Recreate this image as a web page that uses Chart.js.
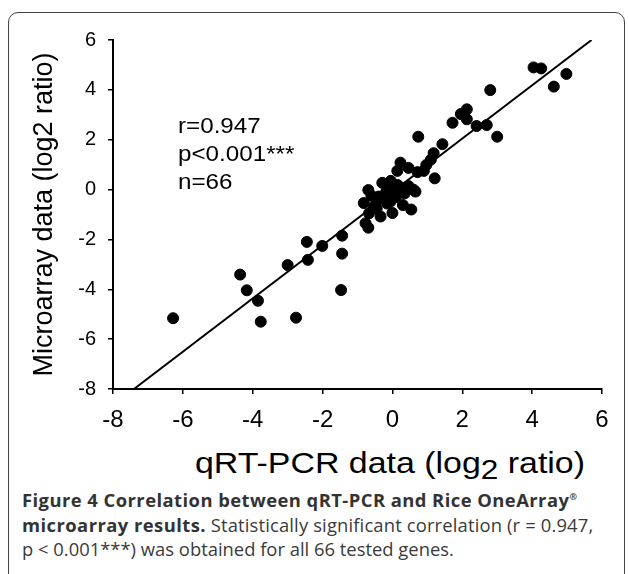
<!DOCTYPE html>
<html>
<head>
<meta charset="utf-8">
<script src="https://cdn.jsdelivr.net/npm/chart.js@4.4.1/dist/chart.umd.min.js"></script>
<style>
  body { margin: 0; background: #fff; width: 628px; height: 574px; overflow: hidden; position: relative; }
  #frame { position: absolute; left: 8px; top: 12px; width: 617px; height: 600px;
           border: 1.5px solid #444; border-radius: 10px; box-sizing: border-box; }
  #chart { position: absolute; left: 0; top: 0; }
  .note { position: absolute; left: 178px; font: 22px "Liberation Sans", Arial, sans-serif; color: #000;
          line-height: 28px; transform: scaleX(1.1); transform-origin: left top; }
  #xtitle { position: absolute; left: 0; width: 780px; top: 446px; text-align: center;
            font: 30px "Liberation Sans", Arial, sans-serif; color: #000; white-space: nowrap;
            transform: scaleX(1.13); transform-origin: 390px 0; }
  #xtitle span { font-size: 28px; position: relative; top: 6px; }
  #caption { position: absolute; left: 22px; top: 485px; font-family: "Open Sans", sans-serif;
             font-size: 18.4px; line-height: 24.5px; color: #3a3a3a; white-space: nowrap; }
  #caption b { font-weight: 700; color: #333; letter-spacing: 0.45px; }
  #caption .reg { letter-spacing: 0.15px; }
  sup { font-size: 9px; }
</style>
</head>
<body>
<div id="frame"></div>
<canvas id="chart" width="628" height="440"></canvas>
<div class="note" style="top:112px">r=0.947<br>p&lt;0.001***<br>n=66</div>
<div id="xtitle">qRT-PCR data (log<span>2</span> ratio)</div>
<div id="caption">
  <b>Figure 4 Correlation between qRT-PCR and Rice OneArray<sup>®</sup></b><br>
  <b>microarray results.</b> <span class="reg">Statistically significant correlation (r = 0.947,</span><br>
  p &lt; 0.001***) was obtained for all 66 tested genes.
</div>
<script>
// qRT-PCR log2 ratio (x) vs microarray log2 ratio (y), 66 genes
const qrtpcr = [-6.28, -4.36, -4.17, -3.85, -3.77, -3.00, -2.76, -2.45, -2.42, -2.01,
  -1.44, -1.44, -1.47, -0.82, -0.77, -0.69, -0.69, -0.67, -0.53, -0.43,
  -0.34, 0.00, -0.29, -0.05, -0.18, 0.19, -0.05, 0.30, 0.54, 0.46,
  0.66, 0.15, 0.14, 0.23, 0.46, 0.72, 0.90, 0.97, 1.10, 1.18,
  1.21, 1.43, 0.74, 1.72, 1.96, 2.13, 2.13, 2.41, 2.70, 3.00,
  2.80, 4.04, 4.26, 4.62, 4.98, -0.40, -0.10, 0.40, -0.15, -0.60,
  0.05, -0.25, 0.35, 0.10, -0.45, 0.60];
const microarray = [-5.16, -3.41, -4.04, -4.46, -5.30, -3.03, -5.14, -2.10, -2.82, -2.26,
  -1.85, -2.57, -4.03, -0.54, -1.35, -1.53, -0.02, -0.95, -0.69, -0.42,
  -1.08, -0.94, 0.27, 0.35, -0.10, -0.12, -0.47, -0.62, -0.80, 0.14,
  -0.08, 0.18, 0.75, 1.08, 0.87, 0.70, 0.75, 0.99, 1.20, 1.46,
  0.45, 1.82, 2.12, 2.68, 3.03, 3.22, 2.82, 2.55, 2.59, 2.12,
  3.99, 4.90, 4.86, 4.13, 4.64, -0.28, 0.00, 0.10, -0.56, -0.25,
  0.20, -0.30, -0.15, -0.30, -0.75, 0.00];
// regression line end points
const fitX = [-7.4, 5.7];
const fitY = [-8, 6];
const ticks = [-8, -6, -4, -2, 0, 2, 4, 6];

const tickFont = "'Liberation Sans', Arial, sans-serif";

new Chart(document.getElementById('chart').getContext('2d'), {
  type: 'scatter',
  data: {
    datasets: [{
      data: qrtpcr.map((x, i) => ({ x: x, y: microarray[i] })),
      backgroundColor: '#000',
      borderColor: '#000',
      pointRadius: 5.5,
      pointHoverRadius: 5.5
    }, {
      type: 'line',
      data: fitX.map((x, i) => ({ x: x, y: fitY[i] })),
      borderColor: '#000',
      borderWidth: 2,
      pointRadius: 0,
      fill: false
    }]
  },
  options: {
    responsive: false,
    animation: false,
    devicePixelRatio: 1,
    layout: { padding: { left: 0, right: 26, top: 40, bottom: 0 } },
    plugins: { legend: { display: false }, tooltip: { enabled: false } },
    scales: {
      x: {
        type: 'linear', min: -8, max: 6,
        afterBuildTicks: s => { s.ticks = ticks.map(v => ({ value: v })); },
        afterFit: s => { s.height = 51; },
        grid: { drawOnChartArea: false, drawTicks: true, tickLength: 5, color: '#000', lineWidth: 1.5 },
        border: { display: true, color: '#000', width: 2 },
        ticks: { color: '#000', padding: 12, font: { family: tickFont, size: 24 }, maxRotation: 0 }
      },
      y: {
        type: 'linear', min: -8, max: 6,
        afterBuildTicks: s => { s.ticks = ticks.map(v => ({ value: v })); },
        afterFit: s => { s.width = 113; },
        grid: { drawOnChartArea: false, drawTicks: true, tickLength: 5, color: '#000', lineWidth: 1.5 },
        border: { display: true, color: '#000', width: 2 },
        ticks: { color: '#000', padding: 12, font: { family: tickFont, size: 20 } },
        title: {
          display: true, text: 'Microarray data (log2 ratio)', color: '#000',
          font: { family: tickFont, size: 27 }, padding: { top: 28, bottom: 0 }
        }
      }
    }
  }
});
</script>
</body>
</html>
